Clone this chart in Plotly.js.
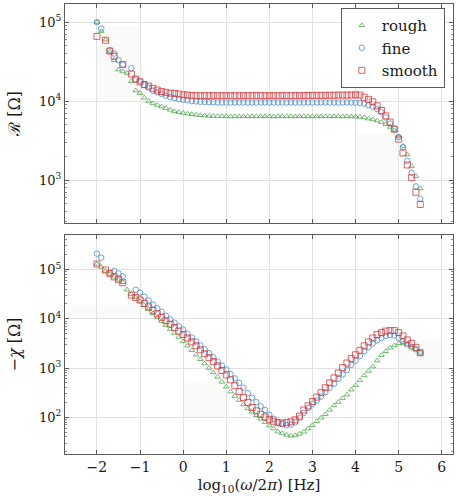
<!DOCTYPE html>
<html>
<head>
<meta charset="utf-8">
<script src="https://cdn.plot.ly/plotly-3.0.1.min.js"></script>
<style>
  html, body { margin: 0; padding: 0; background: #fff; }
  #chart { width: 462px; height: 496px; }
</style>
</head>
<body>
<div id="chart"></div>
<script>
// log10 of frequency (omega / 2 pi) in Hz
const logFreq = [
  -2.0, -1.9, -1.8, -1.7, -1.6, -1.5, -1.4, -1.3, -1.2, -1.1,
  -1.0, -0.9, -0.8, -0.7, -0.6, -0.5, -0.4, -0.3, -0.2, -0.1,
   0.0,  0.1,  0.2,  0.3,  0.4,  0.5,  0.6,  0.7,  0.8,  0.9,
   1.0,  1.1,  1.2,  1.3,  1.4,  1.5,  1.6,  1.7,  1.8,  1.9,
   2.0,  2.1,  2.2,  2.3,  2.4,  2.5,  2.6,  2.7,  2.8,  2.9,
   3.0,  3.1,  3.2,  3.3,  3.4,  3.5,  3.6,  3.7,  3.8,  3.9,
   4.0,  4.1,  4.2,  4.3,  4.4,  4.5,  4.6,  4.7,  4.8,  4.9,
   5.0,  5.1,  5.2,  5.3,  5.4,  5.5
];

const seriesNames = ['rough', 'fine', 'smooth'];

// Resistance R [Ohm]
const resRough = [
  100000, 77000, 60000, 42000, 33000, 25000, 23700, 22700, 17800, 13600,
  12600, 11000, 10000, 9330, 8910, 8510, 8130, 7760, 7410, 7240,
  7080, 6920, 6800, 6700, 6620, 6550, 6500, 6460, 6430, 6410,
  6400, 6390, 6400, 6410, 6400, 6390, 6400, 6400, 6410, 6400,
  6400, 6390, 6400, 6400, 6410, 6400, 6390, 6400, 6410, 6400,
  6400, 6400, 6390, 6400, 6410, 6400, 6400, 6390, 6400, 6380,
  6350, 6300, 6200, 6000, 5850, 5650, 5400, 5100, 4700, 4250,
  3550, 2700, 2100, 1500, 1120, 780
];
const resFine = [
  100000, 83000, null, 44000, 40000, 33000, 29000, null, 26000, 18600,
  17800, 16000, 14800, 13500, 12900, 12300, 11700, 11200, 10900, 10600,
  10400, 10200, 10000, 9900, 9800, 9750, 9700, 9650, 9620, 9600,
  9600, 9590, 9600, 9600, 9610, 9600, 9590, 9600, 9600, 9610,
  9600, 9600, 9590, 9600, 9600, 9610, 9600, 9590, 9600, 9600,
  9600, 9610, 9600, 9600, 9590, 9600, 9600, 9610, 9600, 9580,
  9550, 9500, 9300, 8900, 8500, 7900, 7200, 6200, 5200, 4500,
  3500, 2600, 1750, 1230, 830, 580
];
const resSmooth = [
  66000, null, 59000, 43000, 37000, null, 29000, null, 22000, 19000,
  17500, 16200, 15500, 14500, 13800, 13200, 12900, 12600, 12500, 12300,
  12000, 11900, 11800, 11700, 11700, 11700, 11700, 11700, 11700, 11700,
  11700, 11700, 11650, 11700, 11700, 11700, 11700, 11750, 11700, 11700,
  11700, 11700, 11700, 11750, 11700, 11700, 11750, 11700, 11750, 11750,
  11800, 11800, 11800, 11800, 11850, 11850, 11900, 11900, 11900, 11950,
  12000, 11900, 11200, 10500, 9800, 8700, 7600, 6500, 5400, 4400,
  3300, 2200, 1550, 1070, 700, 490
];

// Negative reactance -chi [Ohm]
const reactRough = [
  129000, 112000, 93300, 81300, 70800, 61700, 55000, 38900, 31600, 26900,
  22400, 18600, 15500, 12900, 10700, 8910, 7410, 6170, 5130, 4270,
  3470, 2820, 2290, 1860, 1510, 1230, 1000, 813, 661, 525,
  417, 331, 269, 224, 182, 151, 129, 110, 93, 79,
  68, 59, 51, 47, 44, 42, 43, 46, 51, 59,
  69, 83, 98, 115, 141, 174, 204, 245, 288, 363,
  447, 562, 708, 871, 1070, 1410, 1820, 2190, 2570, 2880,
  3160, 3160, 3020, 2690, 2400, 2040
];
const reactFine = [
  209000, 174000, null, null, 93300, 83200, 72400, null, null, 38900,
  33900, 28200, 23400, 19500, 16200, 13800, 11500, 9770, 8320, 7080,
  6030, 5010, 4170, 3470, 2880, 2400, 2000, 1660, 1350, 1120,
  933, 759, 617, 501, 398, 309, 251, 204, 166, 141,
  112, 93, 79, 72, 69, 71, 79, 98, 123, 155,
  186, 219, 263, 324, 398, 479, 603, 741, 912, 1150,
  1410, 1740, 2190, 2630, 3160, 3630, 4070, 4470, 4680, 4570,
  4070, 3550, 3020, 2690, 2400, 2040
];
const reactSmooth = [
  129000, null, 97700, 83200, 70800, 63100, 53700, null, 30200, 26900,
  24000, 20400, 17400, 14800, 12600, 10700, 9120, 7760, 6610, 5620,
  4790, 4070, 3390, 2820, 2340, 1950, 1620, 1350, 1100, 891,
  724, 575, 437, 331, 251, 200, 158, 135, 115, 102,
  91, 83, 78, 76, 78, 81, 89, 105, 141, 170,
  209, 257, 316, 398, 501, 631, 794, 1020, 1260, 1550,
  1860, 2290, 2820, 3390, 4070, 4790, 5250, 5620, 5750, 5750,
  5250, 4470, 3720, 3160, 2630, 2040
];

const xTickVals = [-2, -1, 0, 1, 2, 3, 4, 5, 6];

const styles = [
  { symbol: 'triangle-up-open', color: '#4fa94f', size: 5 },
  { symbol: 'circle-open', color: '#4a8bcc', size: 5.5 },
  { symbol: 'square-open', color: '#d63a3c', size: 6 }
];

function makeTrace(y, k, xa, ya, legend) {
  return {
    x: logFreq, y: y, xaxis: xa, yaxis: ya,
    type: 'scatter', mode: 'markers',
    name: seriesNames[k], showlegend: legend,
    marker: {
      symbol: styles[k].symbol, size: styles[k].size,
      color: styles[k].color, line: { width: 0.8, color: styles[k].color }
    },
    hoverinfo: 'skip'
  };
}

const traces = [
  makeTrace(resRough, 0, 'x2', 'y2', true),
  makeTrace(resFine, 1, 'x2', 'y2', true),
  makeTrace(resSmooth, 2, 'x2', 'y2', true),
  makeTrace(reactRough, 0, 'x', 'y', false),
  makeTrace(reactFine, 1, 'x', 'y', false),
  makeTrace(reactSmooth, 2, 'x', 'y', false)
];

// minor tick positions at 2..9 x each decade
function minorTicks(lo, hi) {
  const out = [];
  for (let e = lo; e <= hi; e++) {
    for (let m = 2; m <= 9; m++) out.push(m * Math.pow(10, e));
  }
  return out;
}

const serif = 'DejaVu Serif';
const ink = '#1a1a1a';
const frame = '#5a5a5a';
const grid = '#e2e2e2';

const xCommon = {
  range: [-2.74, 6.26],
  tickmode: 'array', tickvals: xTickVals,
  showgrid: true, gridcolor: grid, gridwidth: 1,
  zeroline: false,
  showline: true, linecolor: frame, linewidth: 1, mirror: 'allticks',
  ticks: 'inside', ticklen: 4, tickcolor: frame,
  tickfont: { family: serif, size: 14, color: ink }
};

function yCommon(domain, range, major, minorLo, minorHi, title) {
  return {
    domain: domain, type: 'log', range: range,
    tickmode: 'array', tickvals: major,
    ticktext: major.map(v => '10<sup>' + Math.round(Math.log10(v)) + '</sup>'),
    showgrid: true, gridcolor: grid, gridwidth: 1,
    zeroline: false,
    showline: true, linecolor: frame, linewidth: 1, mirror: 'allticks',
    ticks: 'inside', ticklen: 4, tickcolor: frame,
    minor: { tickmode: 'array', tickvals: minorTicks(minorLo, minorHi),
             ticks: 'inside', ticklen: 2, tickcolor: '#888', showgrid: false },
    tickfont: { family: serif, size: 13, color: ink },
    title: { text: title, font: { family: serif, size: 16, color: ink }, standoff: 14 }
  };
}

const shade = 'rgba(110,110,80,0.035)';
function box(xr, yr, x0, x1, y0, y1) {
  return { type: 'rect', xref: xr, yref: yr, x0: x0, x1: x1, y0: y0, y1: y1,
           fillcolor: shade, line: { width: 0 }, layer: 'below' };
}

const layout = {
  width: 462, height: 496,
  margin: { l: 65, r: 9, t: 4, b: 42 },
  paper_bgcolor: '#ffffff', plot_bgcolor: '#ffffff',
  font: { family: serif, size: 14, color: ink },
  showlegend: true,
  legend: {
    x: 0.979, xanchor: 'right', y: 0.991, yanchor: 'top',
    bgcolor: '#ffffff', bordercolor: frame, borderwidth: 1,
    font: { family: serif, size: 15, color: ink },
    itemwidth: 30, tracegroupgap: 0
  },
  xaxis: Object.assign({}, xCommon, {
    anchor: 'y',
    title: { text: 'log<sub>10</sub>(<i>ω</i>/2<i>π</i>) [Hz]',
             font: { family: serif, size: 15, color: ink }, standoff: 5 }
  }),
  xaxis2: Object.assign({}, xCommon, { anchor: 'y2', showticklabels: false }),
  yaxis: Object.assign(yCommon([0, 0.4867], [1.255, 5.70], [1e2, 1e3, 1e4, 1e5], 1, 5, '−<i>χ</i> [Ω]'), { anchor: 'x' }),
  yaxis2: Object.assign(yCommon([0.5133, 1], [2.455, 5.23], [1e3, 1e4, 1e5], 2, 5, 'ℛ [Ω]'), { anchor: 'x2' }),
  shapes: [
    box('x2', 'y2', -2, -1, 1e4, 8.9e4),
    box('x2', 'y2', 4, 5, 1e3, 3.9e3),
    box('x', 'y', -2.7, -1, 1e4, 1.9e4),
    box('x', 'y', 0, 1, 1e2, 5.2e2),
    box('x', 'y', 5, 6, 1e3, 3.7e3)
  ]
};

Plotly.newPlot('chart', traces, layout, { staticPlot: true, displayModeBar: false });
</script>
</body>
</html>
